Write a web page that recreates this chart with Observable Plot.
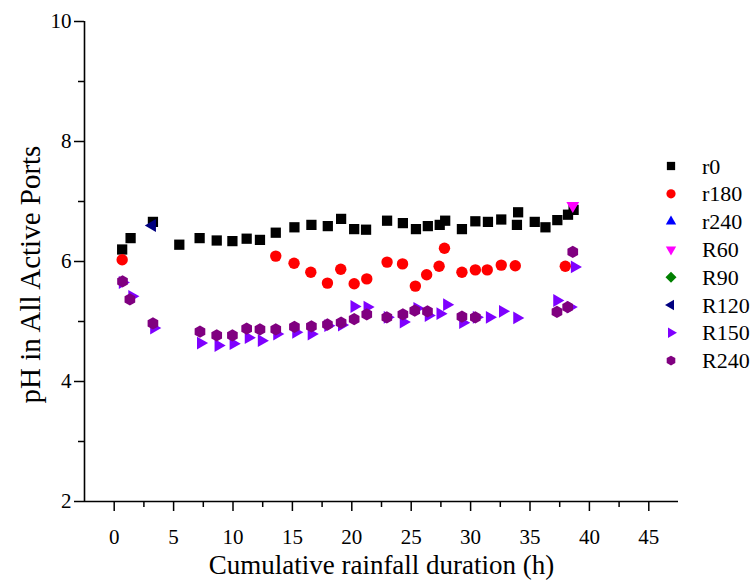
<!DOCTYPE html>
<html>
<head>
<meta charset="utf-8">
<script src="https://cdn.jsdelivr.net/npm/d3@7"></script>
<script src="https://cdn.jsdelivr.net/npm/@observablehq/plot@0.6"></script>
<style>
  body { margin: 0; background: #fff; }
  #wrap { position: relative; width: 755px; height: 580px; font-family: "Liberation Serif", "DejaVu Serif", "Times New Roman", serif; }
  #legend { position: absolute; left: 0; top: 0; pointer-events: none; }
</style>
</head>
<body>
<div id="wrap"></div>
<script>
// ---------- data ----------
const seriesNames = ["r0", "r180", "r240", "R60", "R90", "R120", "R150", "R240"];
const seriesColors = ["#000000", "#ff0000", "#0000ff", "#ff00ff", "#008000", "#000080", "#7f00ff", "#800080"];

const r0X = [0.67, 1.38, 3.26, 5.48, 7.19, 8.63, 9.95, 11.15, 12.27, 13.6, 15.17, 16.6, 17.98, 19.1, 20.2, 21.2, 22.97, 24.3, 25.4, 26.4, 27.4, 27.86, 29.27, 30.4, 31.46, 32.58, 33.9, 34.0, 35.4, 36.3, 37.3, 38.2, 38.67];
const r0Y = [6.2, 6.39, 6.66, 6.28, 6.39, 6.35, 6.34, 6.38, 6.36, 6.48, 6.57, 6.61, 6.59, 6.71, 6.54, 6.53, 6.68, 6.64, 6.54, 6.59, 6.61, 6.68, 6.54, 6.67, 6.66, 6.7, 6.61, 6.82, 6.66, 6.57, 6.69, 6.78, 6.86];

const r180X = [0.67, 13.6, 15.14, 16.55, 17.95, 19.07, 20.2, 21.26, 22.97, 24.27, 25.35, 26.3, 27.35, 27.8, 29.27, 30.4, 31.4, 32.58, 33.76, 37.97];
const r180Y = [6.03, 6.09, 5.97, 5.82, 5.64, 5.87, 5.63, 5.71, 5.99, 5.96, 5.59, 5.78, 5.92, 6.22, 5.82, 5.86, 5.86, 5.94, 5.93, 5.92];

const r240X = [];
const r240Y = [];

const R60X = [38.6];
const R60Y = [6.93];

const R90X = [];
const R90Y = [];

const R120X = [3.2];
const R120Y = [6.6];

const R150X = [0.7, 1.5, 3.34, 7.28, 8.76, 10.03, 11.3, 12.4, 13.7, 15.3, 16.6, 18.0, 19.15, 20.2, 21.3, 23.0, 24.35, 25.5, 26.45, 27.44, 28.0, 29.35, 30.5, 31.6, 32.7, 33.9, 37.27, 38.4, 38.75];
const R150Y = [5.65, 5.42, 4.89, 4.64, 4.6, 4.63, 4.73, 4.68, 4.79, 4.82, 4.79, 4.93, 4.94, 5.25, 5.24, 5.07, 4.99, 5.22, 5.1, 5.13, 5.28, 4.98, 5.07, 5.07, 5.17, 5.06, 5.35, 5.24, 5.91];

const R240X = [0.7, 1.32, 3.26, 7.22, 8.63, 9.95, 11.15, 12.27, 13.6, 15.17, 16.6, 17.95, 19.1, 20.2, 21.26, 22.95, 24.3, 25.3, 26.37, 29.27, 30.4, 37.27, 38.17, 38.6];
const R240Y = [5.67, 5.37, 4.97, 4.83, 4.77, 4.77, 4.88, 4.87, 4.87, 4.91, 4.92, 4.95, 4.98, 5.04, 5.12, 5.07, 5.12, 5.18, 5.17, 5.08, 5.07, 5.16, 5.24, 6.16];

const xTicks = [0, 5, 10, 15, 20, 25, 30, 35, 40, 45];
const xMinorTicks = [2.5, 7.5, 12.5, 17.5, 22.5, 27.5, 32.5, 37.5, 42.5];
const yTicks = [2, 4, 6, 8, 10];
const yMinorTicks = [3, 5, 7, 9];
const xDomain = [-2.5, 47.5];
const yDomain = [2, 10];
const xLabel = "Cumulative rainfall duration (h)";
const yLabel = "pH in All Active Ports";

const FONT = "Liberation Serif, DejaVu Serif, Times New Roman, serif";

// ---------- symbols ----------
function polygon(ctx, R, anglesDeg) {
  anglesDeg.forEach((a, i) => {
    const t = a * Math.PI / 180;
    const px = R * Math.cos(t), py = R * Math.sin(t);
    if (i === 0) ctx.moveTo(px, py); else ctx.lineTo(px, py);
  });
  ctx.closePath();
}
const rad = size => Math.sqrt(size / Math.PI);
const symSquare = { draw(ctx, size) { const h = rad(size) * 0.9; ctx.rect(-h, -h, 2 * h, 2 * h); } };
const symCircle = { draw(ctx, size) { const r = rad(size); ctx.moveTo(r, 0); ctx.arc(0, 0, r, 0, 2 * Math.PI); } };
const symUp = { draw(ctx, size) { polygon(ctx, rad(size) * 1.3, [-90, 30, 150]); } };
const symDown = { draw(ctx, size) { polygon(ctx, rad(size) * 1.3, [90, 210, 330]); } };
const symLeft = { draw(ctx, size) { polygon(ctx, rad(size) * 1.3, [180, 300, 60]); } };
const symRight = { draw(ctx, size) { polygon(ctx, rad(size) * 1.3, [0, 120, 240]); } };
const symDiamond = { draw(ctx, size) { polygon(ctx, rad(size) * 1.2, [-90, 0, 90, 180]); } };
const symHex = { draw(ctx, size) { polygon(ctx, rad(size) * 1.08, [-90, -30, 30, 90, 150, 210]); } };
const seriesSymbols = [symSquare, symCircle, symUp, symDown, symDiamond, symLeft, symRight, symHex];

const seriesX = [r0X, r180X, r240X, R60X, R90X, R120X, R150X, R240X];
const seriesY = [r0Y, r180Y, r240Y, R60Y, R90Y, R120Y, R150Y, R240Y];

const dotMarks = seriesNames.map((name, i) => {
  const rows = seriesX[i].map((x, j) => ({ x, y: seriesY[i][j] }));
  return Plot.dot(rows, { x: "x", y: "y", symbol: seriesSymbols[i], fill: seriesColors[i], stroke: "none", r: 5.7 });
});

const chart = Plot.plot({
  width: 755,
  height: 580,
  marginLeft: 84,
  marginRight: 77,
  marginTop: 21,
  marginBottom: 79,
  x: { domain: xDomain },
  y: { domain: yDomain },
  style: { fontFamily: FONT, fontSize: "21px", color: "#000", background: "#fff", overflow: "visible" },
  marks: [
    Plot.axisX({ ticks: xTicks, tickSize: 10, tickPadding: 18, strokeWidth: 1.5, label: null, tickFormat: d => String(d), fontSize: 21 }),
    Plot.axisX({ ticks: xMinorTicks, tickSize: 6, strokeWidth: 1.5, label: null, tickFormat: () => "" }),
    Plot.axisY({ ticks: yTicks, tickSize: 10, tickPadding: 3, strokeWidth: 1.5, label: null, tickFormat: d => String(d), fontSize: 21 }),
    Plot.axisY({ ticks: yMinorTicks, tickSize: 6, strokeWidth: 1.5, label: null, tickFormat: () => "" }),
    Plot.ruleY([yDomain[0]], { strokeWidth: 1.6 }),
    Plot.ruleX([xDomain[0]], { strokeWidth: 1.6 }),
    ...dotMarks,
    Plot.text([xLabel], { frameAnchor: "bottom", textAnchor: "middle", lineAnchor: "middle", dy: 64, fontSize: 27, fill: "#000" }),
    Plot.text([yLabel], { frameAnchor: "left", textAnchor: "middle", lineAnchor: "middle", rotate: -90, dx: -54, dy: 13, fontSize: 29, fill: "#000" })
  ]
});

const wrap = document.getElementById("wrap");
wrap.appendChild(chart);

// ---------- legend ----------
const legendX = 671, legendY0 = 166, legendStep = 27.8, labelX = 702;
const lsvg = d3.select(wrap).append("svg")
  .attr("id", "legend").attr("width", 755).attr("height", 580);
seriesNames.forEach((name, i) => {
  const y = legendY0 + i * legendStep;
  lsvg.append("path")
    .attr("transform", `translate(${legendX},${y})`)
    .attr("d", d3.symbol(seriesSymbols[i], Math.PI * 4.6 * 4.6)())
    .attr("fill", seriesColors[i]);
  lsvg.append("text")
    .attr("x", labelX).attr("y", y)
    .attr("dominant-baseline", "central")
    .attr("font-family", FONT)
    .attr("font-size", 22)
    .attr("fill", "#000")
    .text(name);
});
</script>
</body>
</html>
